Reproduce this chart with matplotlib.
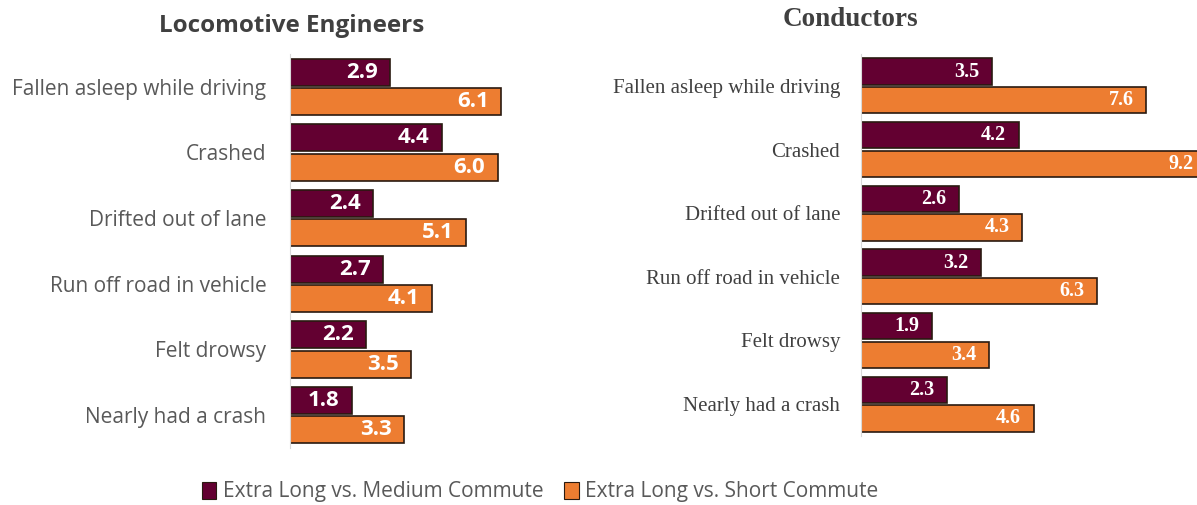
import matplotlib
matplotlib.use("Agg")
import matplotlib.pyplot as plt
from matplotlib.patches import Patch

categories = ["Fallen asleep while driving", "Crashed", "Drifted out of lane",
              "Run off road in vehicle", "Felt drowsy", "Nearly had a crash"]
eng_medium = [2.9, 4.4, 2.4, 2.7, 2.2, 1.8]
eng_short = [6.1, 6.0, 5.1, 4.1, 3.5, 3.3]
con_medium = [3.5, 4.2, 2.6, 3.2, 1.9, 2.3]
con_short = [7.6, 9.2, 4.3, 6.3, 3.4, 4.6]
series_names = ["Extra Long vs. Medium Commute", "Extra Long vs. Short Commute"]
titles = ["Locomotive Engineers", "Conductors"]

MAROON = "#630031"
ORANGE = "#ED7D31"
EDGE = "#2a1a10"

W, H = 1197, 505
fig = plt.figure(figsize=(W / 100, H / 100), dpi=100)


def px_axes(x0, x1, y0, y1):
    return fig.add_axes([x0 / W, (H - y1) / H, (x1 - x0) / W, (y1 - y0) / H])


def draw(ax, med, sh, family, lab_size, lab_color, val_size, pad, xmax, val_off):
    n = len(categories)
    ys = list(range(n))
    h = 0.41
    off = 0.225
    ax.barh([y - off for y in ys], med, height=h, color=MAROON, edgecolor=EDGE, linewidth=1.2)
    ax.barh([y + off for y in ys], sh, height=h, color=ORANGE, edgecolor=EDGE, linewidth=1.2)
    for y, v in zip(ys, med):
        ax.annotate(f"{v:.1f}", (v, y - off), xytext=(-val_off, 0), textcoords="offset points",
                    ha="right", va="center", color="white", fontweight="bold",
                    fontsize=val_size, family=family)
    for y, v in zip(ys, sh):
        ax.annotate(f"{v:.1f}", (v, y + off), xytext=(-val_off, 0), textcoords="offset points",
                    ha="right", va="center", color="white", fontweight="bold",
                    fontsize=val_size, family=family)
    ax.set_ylim(n - 0.5, -0.5)
    ax.set_xlim(0, xmax)
    ax.set_yticks(ys)
    ax.set_yticklabels(categories, family=family, fontsize=lab_size, color=lab_color)
    ax.tick_params(axis="y", length=0, pad=pad)
    ax.set_xticks([])
    for s in ["top", "right", "bottom"]:
        ax.spines[s].set_visible(False)
    ax.spines["left"].set_color("#d9d9d9")
    ax.spines["left"].set_linewidth(0.8)
    ax.set_facecolor("none")
    return ax


ax1 = px_axes(290, 560, 54, 448)
draw(ax1, eng_medium, eng_short, "Open Sans", 15, "#595959", 16, 17, 270 / 34.6, 9)
fig.text(292 / W, 1 - 26 / H, titles[0], family="Open Sans", fontweight="bold", fontsize=17.5,
         color="#404040", ha="center", va="center")

ax2 = px_axes(861, 1215, 54, 436)
draw(ax2, con_medium, con_short, "Liberation Serif", 15, "#404040", 14.5, 15, 354 / 37.5, 9)
fig.text(850 / W, 1 - 20 / H, titles[1], family="Liberation Serif", fontweight="bold", fontsize=19.5,
         color="#404040", ha="center", va="center")

handles = [Patch(facecolor=MAROON, edgecolor=EDGE, linewidth=0.8),
           Patch(facecolor=ORANGE, edgecolor=EDGE, linewidth=0.8)]
leg = fig.legend(handles, series_names, loc="center", bbox_to_anchor=(540 / W, 1 - 492 / H),
                 ncol=2, frameon=False, handlelength=0.7, handleheight=0.85, handletextpad=0.3,
                 columnspacing=1.0, prop={"family": "Open Sans", "size": 15})
for t in leg.get_texts():
    t.set_color("#595959")

fig.savefig("out.png", dpi=100)
